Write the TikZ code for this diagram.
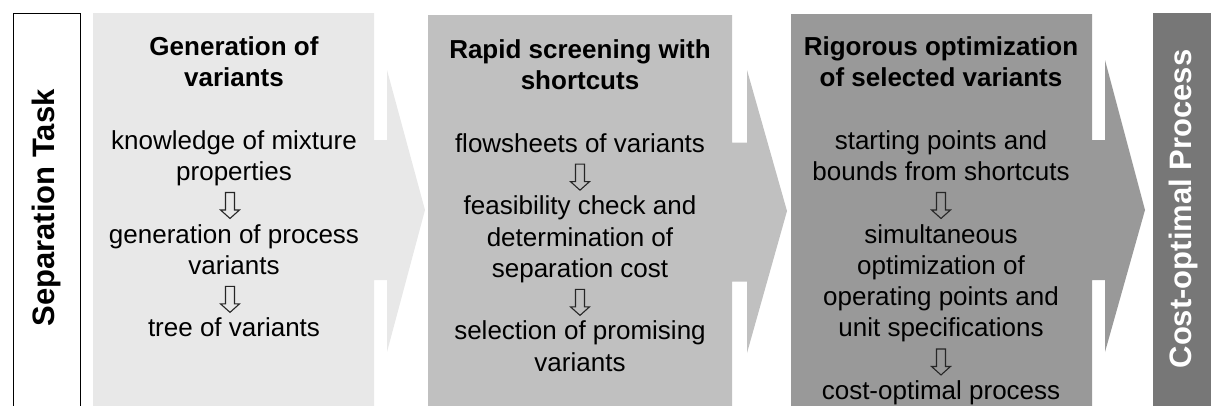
\documentclass[tikz,border=0pt]{standalone}
\usepackage{fontspec}
\setmainfont{Liberation Sans}
\usetikzlibrary{calc}
\definecolor{stageone}{gray}{0.91}
\definecolor{stagetwo}{gray}{0.753}
\definecolor{stagethree}{gray}{0.60}
\definecolor{stagefour}{gray}{0.467}
\tikzset{
  stagebody/.style={font=\fontsize{26}{31.3}\selectfont, align=center,
    inner sep=0pt, anchor=north, text=black},
  stagehead/.style={stagebody, font=\bfseries\fontsize{26}{31.3}\selectfont},
  sidelabel/.style={font=\bfseries\fontsize{31}{37}\selectfont, rotate=90,
    inner sep=0pt},
  hollowdown/.pic={
    \draw[line width=1.1pt, line join=miter, black!85]
      (-4.5,-13) -- (4.5,-13) -- (4.5,4.5) -- (9.5,4.5) -- (0,13)
      -- (-9.5,4.5) -- (-4.5,4.5) -- cycle;
  }
}
\begin{document}
\begin{tikzpicture}[x=1pt,y=-1pt]
\useasboundingbox (0,0) rectangle (1211,405);

% stage bands with their block arrows
\fill[stageone] (93,13) -- (374,13) -- (374,140) -- (387,140) -- (387,70)
  -- (425,210) -- (387,352) -- (387,280) -- (374,280) -- (374,412)
  -- (93,412) -- cycle;
\fill[stagetwo] (428,15) -- (732,15) -- (732,142.5) -- (747,142.5) -- (747,70)
  -- (787,211) -- (747,353) -- (747,281.5) -- (732,281.5) -- (732,412)
  -- (428,412) -- cycle;
\fill[stagethree] (791,14) -- (1092,14) -- (1092,140) -- (1105,140) -- (1105,60)
  -- (1145,210) -- (1105,352) -- (1105,280) -- (1092,280) -- (1092,412)
  -- (791,412) -- cycle;
\fill[stagefour] (1153,13) rectangle (1215,412);

% input box
\draw[line width=1pt, fill=white] (13,412) -- (13,13) -- (80,13) -- (80,412);
\node[sidelabel] (task) at (46.5,208) {Separation Task};
\node[sidelabel, text=white] (result) at (1183,209) {Cost-optimal Process};

% stage 1
\node[stagehead] (h1) at (234,33.1) {\strut Generation of\\variants\strut};
\node[stagebody] (a1) at (234,127) {\strut knowledge of mixture\\properties\strut};
\node[stagebody] (a2) at (234,220.9) {\strut generation of process\\variants\strut};
\node[stagebody] (a3) at (234,314.8) {\strut tree of variants\strut};
\pic[xshift=-4pt] at ($(a1.south)!0.5!(a2.north)$) {hollowdown};
\pic[xshift=-4pt] at ($(a2.south)!0.5!(a3.north)$) {hollowdown};

% stage 2
\node[stagehead] (h2) at (580,36.1) {\strut Rapid screening with\\shortcuts\strut};
\node[stagebody] (b1) at (580,130) {\strut flowsheets of variants\strut};
\node[stagebody] (b2) at (580,192.6) {\strut feasibility check and\\determination of\\separation cost\strut};
\node[stagebody] (b3) at (580,317.8) {\strut selection of promising\\variants\strut};
\pic at ($(b1.south)!0.5!(b2.north)$) {hollowdown};
\pic at ($(b2.south)!0.5!(b3.north)$) {hollowdown};

% stage 3
\node[stagehead] (h3) at (941,33.1) {\strut Rigorous optimization\\of selected variants\strut};
\node[stagebody] (c1) at (941,127) {\strut starting points and\\bounds from shortcuts\strut};
\node[stagebody] (c2) at (941,220.9) {\strut simultaneous\\optimization of\\operating points and\\unit specifications\strut};
\node[stagebody] (c3) at (941,377.4) {\strut cost-optimal process\strut};
\pic at ($(c1.south)!0.5!(c2.north)$) {hollowdown};
\pic at ($(c2.south)!0.5!(c3.north)$) {hollowdown};
\end{tikzpicture}
\end{document}
